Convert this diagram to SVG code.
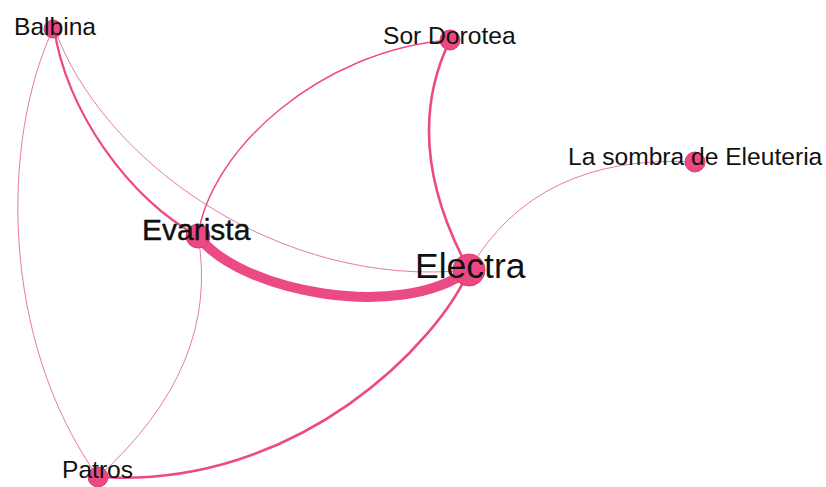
<svg xmlns="http://www.w3.org/2000/svg" width="826" height="487" viewBox="0 0 826 487">
<style>
.e{fill:none;stroke:#ec4a84;stroke-linecap:round}
.thin{stroke:#e77ba2;stroke-width:1}
.n{fill:#ec4883;stroke:#d63d72;stroke-width:1}
.t{font-family:"Liberation Sans",Arial,sans-serif;fill:#111}
</style>
<rect width="826" height="487" fill="#ffffff"/>
<g id="connectors">
<path class="e thin" d="M54,27 C0,140 0,340 98,477"/>
<path class="e" stroke-width="2.2" d="M54,27 C65,110 130,200 198,236"/>
<path class="e thin" d="M54,27 C100,160 280,290 469,270"/>
<path class="e" stroke-width="1.4" d="M198,236 C210,150 320,50 450,40"/>
<path class="e thin" d="M198,236 Q221,366 98,477"/>
<path class="e" stroke-width="10" d="M198,236 C240,292 400,322 469,270"/>
<path class="e" stroke-width="2.6" d="M450,40 Q400,143 469,270"/>
<path class="e thin" d="M695,162 Q537,153 469,270"/>
<path class="e" stroke-width="2.6" d="M469,270 C440,340 300,490 98,477"/>
</g>
<g id="node-balbina"><circle class="n" cx="53" cy="29" r="9"/><text class="t" x="14" y="35" font-size="24.6">Balbina</text></g>
<g id="node-sor-dorotea"><circle class="n" cx="450" cy="40" r="10"/><text class="t" x="383" y="44" font-size="24.6">Sor Dorotea</text></g>
<g id="node-la-sombra"><circle class="n" cx="695" cy="162" r="10"/><text class="t" x="568" y="165" font-size="24.6">La sombra de Eleuteria</text></g>
<g id="node-evarista"><circle class="n" cx="198" cy="236" r="12"/><text class="t" x="142" y="240" font-size="30" stroke="#111" stroke-width="0.4">Evarista</text></g>
<g id="node-electra"><circle class="n" cx="469" cy="270" r="16"/><text class="t" x="415" y="278" font-size="35.5">Electra</text></g>
<g id="node-patros"><circle class="n" cx="98" cy="477" r="10"/><text class="t" x="62" y="478" font-size="24.6">Patros</text></g>
</svg>
